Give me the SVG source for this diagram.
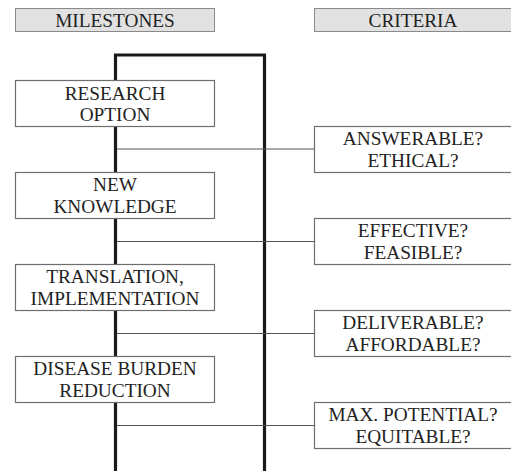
<svg xmlns="http://www.w3.org/2000/svg" width="511" height="471" viewBox="0 0 511 471">
<style>
.hdr{fill:#e1e1e1;stroke:#8a8a8a;stroke-width:1}
.box{fill:#fff;stroke:#6e6e6e;stroke-width:1.2}
.t{font-family:'Liberation Serif','DejaVu Serif',serif;font-size:19.3px;fill:#222;text-anchor:middle}
.thin{stroke:#555;stroke-width:1;fill:none}
.thick{stroke:#1a1a1a;stroke-width:3.2;fill:none}
</style>
<rect width="511" height="471" fill="#fff"/>
<g id="connectors">
<path class="thick" d="M115.5 471 V55 H264.5 V471"/>
<line class="thin" x1="117" y1="149" x2="314" y2="149"/>
<line class="thin" x1="117" y1="241.5" x2="314" y2="241.5"/>
<line class="thin" x1="117" y1="333.5" x2="314" y2="333.5"/>
<line class="thin" x1="117" y1="425.5" x2="314" y2="425.5"/>
</g>
<g id="milestones-header"><rect class="hdr" x="15.5" y="8.5" width="199" height="23"/><text class="t" x="115" y="26.7">MILESTONES</text></g>
<g id="criteria-header"><rect class="hdr" x="314.5" y="8.5" width="200" height="23"/><text class="t" x="413" y="26.7">CRITERIA</text></g>
<g id="research-option"><rect class="box" x="15.5" y="80.5" width="199" height="46"/><text class="t" x="115" y="99.5">RESEARCH</text><text class="t" x="115" y="121">OPTION</text></g>
<g id="new-knowledge"><rect class="box" x="15.5" y="172.5" width="199" height="46"/><text class="t" x="115" y="191">NEW</text><text class="t" x="115" y="213">KNOWLEDGE</text></g>
<g id="translation"><rect class="box" x="15.5" y="264.5" width="199" height="46"/><text class="t" x="115" y="283">TRANSLATION,</text><text class="t" x="115" y="305">IMPLEMENTATION</text></g>
<g id="disease-burden"><rect class="box" x="15.5" y="356.5" width="199" height="46"/><text class="t" x="115" y="375">DISEASE BURDEN</text><text class="t" x="115" y="397">REDUCTION</text></g>
<g id="answerable"><rect class="box" x="314.5" y="126.5" width="200" height="46"/><text class="t" x="413" y="145">ANSWERABLE?</text><text class="t" x="413" y="167">ETHICAL?</text></g>
<g id="effective"><rect class="box" x="314.5" y="218.5" width="200" height="46"/><text class="t" x="413" y="237">EFFECTIVE?</text><text class="t" x="413" y="259">FEASIBLE?</text></g>
<g id="deliverable"><rect class="box" x="314.5" y="310.5" width="200" height="46"/><text class="t" x="413" y="329">DELIVERABLE?</text><text class="t" x="413" y="351">AFFORDABLE?</text></g>
<g id="max-potential"><rect class="box" x="314.5" y="402.5" width="200" height="46"/><text class="t" x="413" y="421">MAX. POTENTIAL?</text><text class="t" x="413" y="443">EQUITABLE?</text></g>
</svg>
